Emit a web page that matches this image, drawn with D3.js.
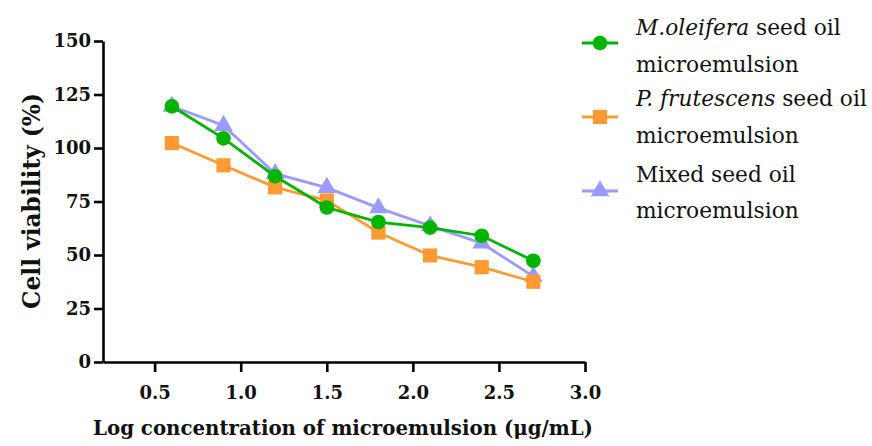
<!DOCTYPE html>
<html><head><meta charset="utf-8">
<script src="https://cdn.jsdelivr.net/npm/d3@7"></script>
<style>body{margin:0;background:#fff}svg{display:block}</style>
</head><body>
<svg id="c" width="872" height="446"></svg>
<script>
const xValues = [0.6, 0.9, 1.2, 1.5, 1.8, 2.1, 2.4, 2.7];
const moleifera = [119.5, 104.5, 86.8, 72.2, 65.4, 62.8, 59, 47.3];
const pfrutescens = [102.3, 91.9, 81.6, 75.5, 60.5, 49.8, 44.3, 37.5];
const mixed = [119.5, 110.5, 88, 81.5, 72, 63.6, 55.5, 40];
const xTicks = [0.5, 1.0, 1.5, 2.0, 2.5, 3.0];
const yTicks = [0, 25, 50, 75, 100, 125, 150];

const FONT = "'DejaVu Serif', 'Liberation Serif', serif";
const svg = d3.select("#c");
const x = d3.scaleLinear().domain([0.2, 3.0]).range([103, 585]);
const y = d3.scaleLinear().domain([0, 150]).range([362, 41]);

function fit(sel, target) {
  const n = sel.node();
  const fs = parseFloat(sel.style("font-size"));
  const w = n.getComputedTextLength();
  sel.style("font-size", (fs * target / w).toFixed(2) + "px");
}

// axes
const xAxis = svg.append("g").attr("transform", "translate(0,362)")
  .call(d3.axisBottom(x).tickValues(xTicks).tickFormat(d3.format(".1f")).tickSize(10).tickSizeOuter(0));
const yAxis = svg.append("g").attr("transform", "translate(103,0)")
  .call(d3.axisLeft(y).tickValues(yTicks).tickSize(9).tickSizeOuter(0));
[xAxis, yAxis].forEach(a => {
  a.select(".domain").attr("stroke", "#000").attr("stroke-width", 2.6);
  a.selectAll(".tick line").attr("stroke", "#000").attr("stroke-width", 2.6);
  a.selectAll(".tick text").attr("fill", "#111").style("font-family", FONT)
    .style("font-weight", "bold").style("font-size", "18px");
});
xAxis.selectAll(".tick text").attr("dy", "0.71em").attr("y", 24);
yAxis.selectAll(".tick text").attr("x", -12);

// axis titles
const xt = svg.append("text").attr("x", 343).attr("y", 435).attr("text-anchor", "middle")
  .style("font-family", FONT).style("font-weight", "bold").style("font-size", "19px")
  .attr("fill", "#111").text("Log concentration of microemulsion (μg/mL)");
fit(xt, 500);
const yt = svg.append("text").attr("transform", "translate(40,201) rotate(-90)").attr("text-anchor", "middle")
  .style("font-family", FONT).style("font-weight", "bold").style("font-size", "19px")
  .attr("fill", "#111").text("Cell viability (%)");
fit(yt, 216);

const series = [
  {vals: mixed, color: "#9a9aff", sym: d3.symbolTriangle, size: 150},
  {vals: pfrutescens, color: "#ff9a33", sym: d3.symbolSquare, size: 200},
  {vals: moleifera, color: "#00b400", sym: d3.symbolCircle, size: 170}
];
const line = d3.line().x((d, i) => x(xValues[i])).y(d => y(d));
series.forEach(s => {
  svg.append("path").datum(s.vals).attr("d", line).attr("fill", "none")
    .attr("stroke", s.color).attr("stroke-width", 2.8);
  svg.append("g").selectAll("path").data(s.vals).join("path")
    .attr("transform", (d, i) => `translate(${x(xValues[i])},${y(d)})`)
    .attr("d", d3.symbol().type(s.sym).size(s.size)).attr("fill", s.color);
});

// legend
const legend = [
  {color: "#00b400", sym: d3.symbolCircle, size: 170, my: 43, lines: [[["M.oleifera", true], [" seed oil", false]], [["microemulsion", false]]], ty: [35, 72]},
  {color: "#ff9a33", sym: d3.symbolSquare, size: 200, my: 117, lines: [[["P. frutescens", true], [" seed oil", false]], [["microemulsion", false]]], ty: [106, 143]},
  {color: "#9a9aff", sym: d3.symbolTriangle, size: 150, my: 191, lines: [[["Mixed seed oil", false]], [["microemulsion", false]]], ty: [182, 218]}
];
let legFs = null;
legend.forEach((l, li) => {
  svg.append("line").attr("x1", 582).attr("x2", 618).attr("y1", l.my).attr("y2", l.my)
    .attr("stroke", l.color).attr("stroke-width", 2.8);
  svg.append("path").attr("transform", `translate(600,${l.my})`)
    .attr("d", d3.symbol().type(l.sym).size(l.size)).attr("fill", l.color);
  l.lines.forEach((ln, k) => {
    const t = svg.append("text").attr("class", "leg").attr("x", 636).attr("y", l.ty[k])
      .style("font-family", FONT).style("font-size", "22px").attr("fill", "#111");
    ln.forEach(([txt, it]) => t.append("tspan").style("font-style", it ? "italic" : "normal").text(txt));
    if (li === 1 && k === 0) { fit(t, 231); legFs = t.style("font-size"); }
  });
});
svg.selectAll("text.leg").style("font-size", legFs);
</script>
</body></html>
